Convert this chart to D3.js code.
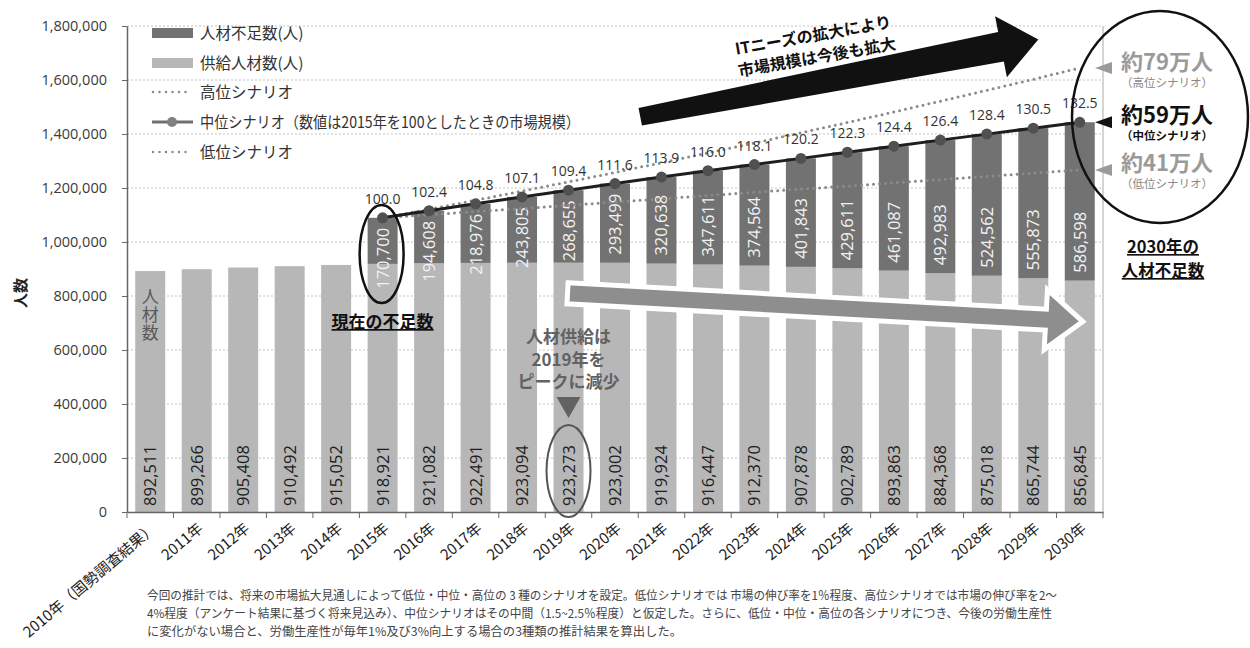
<!DOCTYPE html>
<html><head><meta charset="utf-8">
<script src="https://cdn.jsdelivr.net/npm/d3@7"></script>
<style>body{margin:0;background:#fff}svg{display:block}</style>
</head><body>
<svg id="chart" width="1250" height="648"></svg>
<script>
// ---------- data ----------
const years = ["2010年（国勢調査結果）","2011年","2012年","2013年","2014年","2015年","2016年","2017年","2018年","2019年","2020年","2021年","2022年","2023年","2024年","2025年","2026年","2027年","2028年","2029年","2030年"];
const supply = [892511,899266,905408,910492,915052,918921,921082,922491,923094,923273,923002,919924,916447,912370,907878,902789,893863,884368,875018,865744,856845];
const shortageYears = ["2015年","2016年","2017年","2018年","2019年","2020年","2021年","2022年","2023年","2024年","2025年","2026年","2027年","2028年","2029年","2030年"];
const shortage = [170700,194608,218976,243805,268655,293499,320638,347611,374564,401843,429611,461087,492983,524562,555873,586598];
const marketIndex = ["100.0","102.4","104.8","107.1","109.4","111.6","113.9","116.0","118.1","120.2","122.3","124.4","126.4","128.4","130.5","132.5"];
const highTotal = [1089621,1121600,1154600,1188600,1222600,1257600,1293600,1329600,1366600,1404600,1442600,1481600,1521600,1561600,1602600,1644600];
const lowTotal  = [1089621,1101000,1113000,1124000,1136000,1148000,1160000,1172000,1184000,1196000,1207000,1219000,1231000,1243000,1255000,1267000];
const yTicks = [0,200000,400000,600000,800000,1000000,1200000,1400000,1600000,1800000];
const legendLabels = ["人材不足数(人)","供給人材数(人)","高位シナリオ","中位シナリオ（数値は2015年を100としたときの市場規模）","低位シナリオ"];
const rightBig = ["約79万人","約59万人","約41万人"];
const rightSmall = ["（高位シナリオ）","（中位シナリオ）","（低位シナリオ）"];
const footnote = [
 "今回の推計では、将来の市場拡大見通しによって低位・中位・高位の 3 種のシナリオを設定。低位シナリオでは 市場の伸び率を1％程度、高位シナリオでは市場の伸び率を2～",
 "4%程度（アンケート結果に基づく将来見込み）、中位シナリオはその中間（1.5~2.5％程度）と仮定した。さらに、低位・中位・高位の各シナリオにつき、今後の労働生産性",
 "に変化がない場合と、労働生産性が毎年1%及び3%向上する場合の3種類の推計結果を算出した。"
];

// ---------- setup ----------
const JP = "'Noto Sans CJK JP','Noto Sans',sans-serif";
const NUM = "'Open Sans','Noto Sans',sans-serif";
const C_DARK = "#727272", C_LIGHT = "#b7b7b7";
const svg = d3.select("#chart");
const x = d3.scaleBand().domain(years).range([127,1103]).paddingInner(0.355).paddingOuter(0.1775);
const y = d3.scaleLinear().domain([0,1800000]).range([512,26]);
const xc = d => x(d) + x.bandwidth()/2;
const fmt = d3.format(",");

// gridlines
svg.append("g").selectAll("line").data(yTicks.slice(1)).join("line")
  .attr("x1",127).attr("x2",1103).attr("y1",d=>y(d)).attr("y2",d=>y(d))
  .attr("stroke","#c4c4c4").attr("stroke-width",1).attr("stroke-dasharray","2,2");
svg.append("line").attr("x1",1103).attr("x2",1103).attr("y1",y(1800000)).attr("y2",y(0)).attr("stroke","#aaa");

// bars
svg.append("g").selectAll("rect").data(years).join("rect")
  .attr("x",d=>x(d)).attr("width",x.bandwidth())
  .attr("y",(d,i)=>y(supply[i])).attr("height",(d,i)=>y(0)-y(supply[i]))
  .attr("fill",C_LIGHT);
const shortData = shortageYears.map((d,i)=>({yr:d, base:supply[years.indexOf(d)], s:shortage[i], idx:marketIndex[i], hi:highTotal[i], lo:lowTotal[i]}));
svg.append("g").selectAll("rect").data(shortData).join("rect")
  .attr("x",d=>x(d.yr)).attr("width",x.bandwidth())
  .attr("y",d=>y(d.base+d.s)).attr("height",d=>y(d.base)-y(d.base+d.s))
  .attr("fill",C_DARK);

// bar labels
svg.append("g").selectAll("text").data(years).join("text")
  .attr("transform",d=>`translate(${xc(d)+6},${y(0)-6}) rotate(-90)`)
  .attr("font-family",NUM).attr("font-size",16.5).attr("fill","#1e1e1e")
  .text((d,i)=>fmt(supply[i]));
svg.append("g").selectAll("text").data(shortData).join("text")
  .attr("transform",d=>{const t=y(d.base+d.s), b=y(d.base); return `translate(${xc(d.yr)+6},${Math.max(t+71,b-8)}) rotate(-90)`;})
  .attr("font-family",NUM).attr("font-size",16.5).attr("fill","#f2f2f2")
  .text(d=>fmt(d.s));

// "人材数" vertical text in first bar
svg.append("text").attr("x",xc(years[0])).attr("y",288)
  .style("writing-mode","vertical-rl").attr("letter-spacing",1)
  .attr("font-family",JP).attr("font-size",17).attr("fill","#5a5a5a").text("人材数");

// grey arrow (supply decreasing)
(function(){
  const a=[xc("2019年")-1,y(810000)], b=[xc("2030年")+3,y(705000)];
  const ang=Math.atan2(b[1]-a[1],b[0]-a[0])*180/Math.PI, L=Math.hypot(b[0]-a[0],b[1]-a[1]);
  const hl=37, hw=30, sw=10.5;
  svg.append("path").attr("transform",`translate(${a[0]},${a[1]}) rotate(${ang})`)
    .attr("d",`M0,${-sw}L${L-hl},${-sw}L${L-hl},${-hw}L${L},0L${L-hl},${hw}L${L-hl},${sw}L0,${sw}Z`)
    .attr("fill","#8e8e8e").attr("stroke","#fff").attr("stroke-width",5).attr("stroke-linejoin","miter");
})();

// axes
const yAxis = svg.append("g").attr("transform","translate(127,0)")
  .call(d3.axisLeft(y).tickValues(yTicks).tickFormat(fmt).tickSize(5).tickPadding(15).tickSizeOuter(0));
yAxis.select(".domain").attr("stroke","#666").attr("stroke-width",1.5);
yAxis.selectAll(".tick line").attr("stroke","#666");
yAxis.selectAll("text").attr("font-family",NUM).attr("font-size",14.5).attr("fill","#3a3a3a");

const xAxis = svg.append("g").attr("transform",`translate(0,${y(0)})`)
  .call(d3.axisBottom(x).tickSize(0).tickSizeOuter(0));
xAxis.select(".domain").attr("stroke","#666").attr("stroke-width",1.5);
xAxis.selectAll("text").attr("font-family",JP).attr("font-size",15).attr("fill","#222")
  .attr("text-anchor","end").attr("y",0).attr("dy","0.35em")
  .attr("transform","translate(4,14) rotate(-40)");
svg.append("g").selectAll("line").data(d3.range(years.length+1)).join("line")
  .attr("x1",i=>x.range()[0]+i*x.step()).attr("x2",i=>x.range()[0]+i*x.step())
  .attr("y1",y(0)).attr("y2",y(0)+6).attr("stroke","#666");

// scenario lines
const lineGen = key => d3.line().x(d=>xc(d.yr)).y(d=>y(key(d)));
svg.append("path").datum(shortData).attr("d",lineGen(d=>d.hi))
  .attr("fill","none").attr("stroke","#8a8a8a").attr("stroke-width",3).attr("stroke-linecap","round").attr("stroke-dasharray","0,6");
svg.append("path").datum(shortData).attr("d",lineGen(d=>d.lo))
  .attr("fill","none").attr("stroke","#8a8a8a").attr("stroke-width",3).attr("stroke-linecap","round").attr("stroke-dasharray","0,6");
svg.append("path").datum(shortData).attr("d",lineGen(d=>d.base+d.s))
  .attr("fill","none").attr("stroke","#1e1e1e").attr("stroke-width",3);
svg.append("g").selectAll("circle").data(shortData).join("circle")
  .attr("cx",d=>xc(d.yr)).attr("cy",d=>y(d.base+d.s)).attr("r",5.5).attr("fill","#505050");
svg.append("g").selectAll("text").data(shortData).join("text")
  .attr("x",d=>xc(d.yr)).attr("y",d=>y(d.base+d.s)-14).attr("text-anchor","middle")
  .attr("font-family",NUM).attr("font-size",14).attr("fill","#333").text(d=>d.idx);

// black arrow (market expanding)
(function(){
  const a=[x.range()[0]+11*x.step()+2,y(1464000)], b=[xc("2029年")+5,y(1750000)];
  const ang=Math.atan2(b[1]-a[1],b[0]-a[0])*180/Math.PI, L=Math.hypot(b[0]-a[0],b[1]-a[1]);
  const hl=38, hw=31;
  svg.append("path").attr("transform",`translate(${a[0]},${a[1]}) rotate(${ang})`)
    .attr("d",`M0,-9L${L-hl},-15L${L-hl},${-hw}L${L},0L${L-hl},${hw}L${L-hl},15L0,9Z`)
    .attr("fill","#111");
  const g=svg.append("g").attr("transform",`translate(815,46) rotate(-10)`);
  g.selectAll("text").data(["ITニーズの拡大により","市場規模は今後も拡大"]).join("text")
    .attr("x",0).attr("y",(d,i)=>i===0?-5:17).attr("text-anchor","middle")
    .attr("font-family",JP).attr("font-weight","bold").attr("font-size",16).attr("fill","#111").text(d=>d);
})();

// ellipses & annotations
svg.append("ellipse").attr("cx",xc("2015年")-1).attr("cy",254).attr("rx",22).attr("ry",49)
  .attr("fill","none").attr("stroke","#111").attr("stroke-width",2.5);
svg.append("text").attr("x",xc("2015年")).attr("y",328).attr("text-anchor","middle")
  .attr("font-family",JP).attr("font-weight","bold").attr("font-size",17).attr("fill","#111")
  .attr("text-decoration","underline").text("現在の不足数");

svg.append("g").selectAll("text").data(["人材供給は","2019年を","ピークに減少"]).join("text")
  .attr("x",xc("2019年")).attr("y",(d,i)=>343+i*22.5).attr("text-anchor","middle")
  .attr("font-family",JP).attr("font-weight","bold").attr("font-size",17).attr("fill","#626262").text(d=>d);
svg.append("path").attr("d",`M${xc("2019年")-12},397L${xc("2019年")+12},397L${xc("2019年")},418Z`).attr("fill","#626262");
svg.append("ellipse").attr("cx",xc("2019年")).attr("cy",471).attr("rx",22).attr("ry",46)
  .attr("fill","none").attr("stroke","#555").attr("stroke-width",2);

// right side
svg.append("ellipse").attr("cx",1160).attr("cy",117).attr("rx",88).attr("ry",106)
  .attr("fill","none").attr("stroke","#111").attr("stroke-width",2.5);
const last = shortData[shortData.length-1];
const rightY = [y(last.hi), y(last.base+last.s), y(last.lo)];
const rightCol = ["#9a9a9a","#111","#9a9a9a"];
const rightTextY = [62,115,163];
rightY.forEach((yy,i)=>{
  svg.append("path").attr("d",`M1095,${yy}L1112,${yy-6}L1112,${yy+6}Z`).attr("fill",rightCol[i]);
  svg.append("text").attr("x",1167).attr("y",rightTextY[i]).attr("dy","0.36em").attr("text-anchor","middle")
    .attr("font-family",JP).attr("font-weight","bold").attr("font-size",22).attr("fill",rightCol[i]).text(rightBig[i]);
  svg.append("text").attr("x",1167).attr("y",rightTextY[i]+21).attr("dy","0.36em").attr("text-anchor","middle")
    .attr("font-family",JP).attr("font-weight",i===1?"bold":"normal").attr("font-size",11.5).attr("fill",i===1?"#111":"#888").text(rightSmall[i]);
});
svg.append("g").selectAll("text").data(["2030年の","人材不足数"]).join("text")
  .attr("x",1163).attr("y",(d,i)=>253+i*24).attr("text-anchor","middle")
  .attr("font-family",JP).attr("font-weight","bold").attr("font-size",16.5).attr("fill","#111")
  .attr("text-decoration","underline").text(d=>d);

// y axis title
svg.append("text").attr("transform","translate(26,293) rotate(-90)").attr("text-anchor","middle")
  .attr("font-family",JP).attr("font-weight","bold").attr("font-size",15).attr("fill","#222").text("人数");

// legend
const lg = svg.append("g");
const rowsY = [33,63,92,122,152];
legendLabels.forEach((t,i)=>{
  const yy=rowsY[i];
  if(i<2) lg.append("rect").attr("x",152).attr("y",yy-5).attr("width",41).attr("height",10).attr("fill",i===0?C_DARK:C_LIGHT);
  else if(i===3){
    lg.append("line").attr("x1",152).attr("x2",193).attr("y1",yy).attr("y2",yy).attr("stroke","#707070").attr("stroke-width",3);
    lg.append("circle").attr("cx",172).attr("cy",yy).attr("r",5).attr("fill","#808080");
  } else {
    lg.append("line").attr("x1",153).attr("x2",191).attr("y1",yy).attr("y2",yy).attr("stroke","#8a8a8a")
      .attr("stroke-width",2.5).attr("stroke-linecap","round").attr("stroke-dasharray","0,6.5");
  }
  const tx = lg.append("text").attr("x",200).attr("y",yy).attr("dy","0.36em")
    .attr("font-family",JP).attr("font-size",15.5).attr("fill","#333").text(t);
  if(i===3) tx.attr("textLength",380).attr("lengthAdjust","spacingAndGlyphs");
});

// footnote
const fnLen=[910,905,535];
svg.append("g").selectAll("text").data(footnote).join("text")
  .attr("x",147).attr("y",(d,i)=>600+i*18)
  .attr("font-family",JP).attr("font-size",12).attr("fill","#444")
  .attr("textLength",(d,i)=>fnLen[i]).attr("lengthAdjust","spacingAndGlyphs").text(d=>d);
</script>
</body></html>
